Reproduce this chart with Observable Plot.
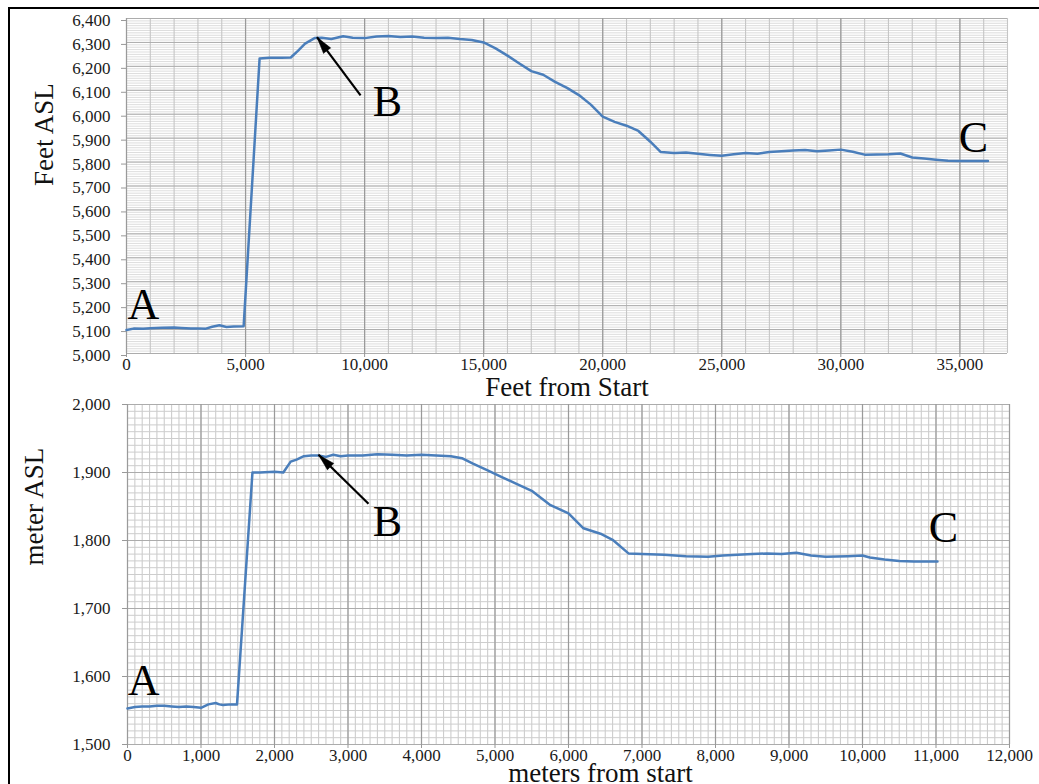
<!DOCTYPE html>
<html>
<head>
<meta charset="utf-8">
<script src="https://cdn.jsdelivr.net/npm/d3@7"></script>
<script src="https://cdn.jsdelivr.net/npm/@observablehq/plot@0.6"></script>
<style>
  html, body { margin: 0; padding: 0; background: #fff; }
  #wrap { position: relative; width: 1039px; height: 784px; overflow: hidden; background: #fff; }
  #frame { position: absolute; left: 8px; top: 7px; width: 1100px; height: 900px;
           border-left: 2.5px solid #000; border-top: 2.5px solid #000; }
  #topChart, #bottomChart { position: absolute; left: 0; }
  #topChart { top: 0; }
  #bottomChart { top: 392px; }
</style>
</head>
<body>
<div id="wrap">
  <div id="frame"></div>
  <div id="topChart"></div>
  <div id="bottomChart"></div>
</div>
<script>
// ---------- Data: elevation profile in feet ----------
const feetDist = [0, 300, 700, 1000, 1500, 2000, 2300, 2700, 3000, 3300, 3600, 3900, 4200, 4500, 4920,
  5590, 6000, 6500, 6900, 7200, 7500, 7900, 8200, 8600, 9100, 9500, 10000, 10500, 11000, 11500, 12000,
  12500, 13000, 13500, 14000, 14500, 15000, 15500, 16000, 16500, 17000, 17500, 18000, 18500, 19000,
  19500, 20000, 20500, 21000, 21500, 22000, 22440, 23000, 23500, 24000, 24500, 25000, 25500, 26000,
  26500, 27000, 27500, 28000, 28500, 29000, 29500, 30000, 30500, 31000, 31500, 32000, 32500, 33000,
  33500, 34000, 34500, 35000, 35500, 36180];
const feetElev = [5098, 5104, 5103, 5106, 5108, 5109, 5107, 5104, 5105, 5103, 5112, 5118, 5111, 5113, 5114,
  6233, 6236, 6236, 6237, 6265, 6295, 6318, 6320, 6314, 6326, 6320, 6318, 6325, 6327, 6323, 6325,
  6320, 6318, 6320, 6314, 6310, 6300, 6275, 6245, 6212, 6180, 6165, 6135, 6110, 6080,
  6040, 5990, 5968, 5952, 5930, 5885, 5842, 5838, 5840, 5835, 5830, 5826, 5833, 5838,
  5835, 5842, 5845, 5848, 5850, 5845, 5848, 5852, 5843, 5831, 5832, 5833, 5836, 5819,
  5815, 5810, 5806, 5804, 5804, 5804];

// ---------- Data: elevation profile in meters ----------
const meterDist = [0, 100, 200, 300, 400, 500, 600, 700, 800, 900, 1000, 1100, 1200, 1250, 1300, 1400, 1490,
  1700, 1800, 2000, 2120, 2220, 2300, 2400, 2500, 2600, 2700, 2800, 2900, 3000, 3200, 3400, 3600, 3800,
  4000, 4200, 4400, 4550, 4700, 4900, 5100, 5300, 5500, 5755, 6000, 6204, 6435, 6600, 6816, 7000,
  7300, 7600, 7900, 8100, 8300, 8500, 8700, 8900, 9100, 9300, 9500, 9800, 10000, 10100, 10300, 10500,
  10700, 11020];
const meterElev = [1553, 1555, 1556, 1556, 1557, 1557, 1556, 1555, 1556, 1555, 1554, 1559, 1561, 1559, 1558, 1559, 1559,
  1900, 1900, 1901, 1900, 1916, 1919, 1924, 1925, 1925, 1923, 1926, 1924, 1925, 1925, 1927, 1926, 1925,
  1926, 1925, 1924, 1921, 1913, 1903, 1893, 1883, 1873, 1852, 1840, 1818, 1810, 1801, 1781, 1780,
  1779, 1777, 1776, 1778, 1779, 1780, 1781, 1780, 1782, 1778, 1776, 1777, 1778, 1775, 1772, 1770,
  1769, 1769];

// ---------- Tick values ----------
const feetXTicks = [0, 5000, 10000, 15000, 20000, 25000, 30000, 35000];
const feetYTicks = [5000, 5100, 5200, 5300, 5400, 5500, 5600, 5700, 5800, 5900, 6000, 6100, 6200, 6300, 6400];
const meterXTicks = [0, 1000, 2000, 3000, 4000, 5000, 6000, 7000, 8000, 9000, 10000, 11000, 12000];
const meterYTicks = [1500, 1600, 1700, 1800, 1900, 2000];

// ---------- Annotations (data coordinates) ----------
const letters = ["A", "B", "C"];
const feetLetterX = [714, 10960, 35570];
const feetLetterY = [5204, 6050, 5902];
const meterLetterX = [218, 3537, 11102];
const meterLetterY = [1593, 1828, 1818];
const feetArrow = [{x1: 9830, y1: 6079, x2: 8000, y2: 6322}];
const meterArrow = [{x1: 3279, y1: 1854, x2: 2599, y2: 1926}];

const fmt = d3.format(",");
const lineColor = "#4a7ebb";
const font = "'Liberation Serif', 'Times New Roman', serif";

const feetData = feetDist.map((d, i) => ({x: d, y: feetElev[i]}));
const meterData = meterDist.map((d, i) => ({x: d, y: meterElev[i]}));
const feetLetters = letters.map((t, i) => ({t, x: feetLetterX[i], y: feetLetterY[i]}));
const meterLetters = letters.map((t, i) => ({t, x: meterLetterX[i], y: meterLetterY[i]}));

// screen-space angle (clockwise from north) of an arrow, given px-per-unit factors
function headAngle(a, kx, ky) {
  const dx = (a.x2 - a.x1) * kx, dy = (a.y2 - a.y1) * ky;
  return Math.atan2(dx, dy) * 180 / Math.PI;
}

function chart(opts) {
  const {data, xDomain, yDomain, xTicks, yTicks, xMinor, yMinor, xMajor,
         margins, arrow, lettersData, yLabel, xLabel, yLabelOff, xLabelOff,
         minorYStroke, minorYWidth, minorXStroke, yTickDy, yPad} = opts;
  const W = 1039, H = 392;
  const kx = (W - margins.left - margins.right) / (xDomain[1] - xDomain[0]);
  const ky = (H - margins.top - margins.bottom) / (yDomain[1] - yDomain[0]);
  const rot = headAngle(arrow[0], kx, ky);
  return Plot.plot({
    width: W, height: H,
    marginLeft: margins.left, marginRight: margins.right, marginTop: margins.top, marginBottom: margins.bottom,
    x: {domain: xDomain},
    y: {domain: yDomain},
    style: {fontFamily: font, fontSize: "17px", background: "none", overflow: "visible", color: "#1a1a1a"},
    marks: [
      Plot.ruleY(yMinor, {stroke: minorYStroke, strokeWidth: minorYWidth}),
      Plot.ruleX(xMinor, {stroke: minorXStroke, strokeWidth: 1.1}),
      Plot.ruleY(yTicks, {stroke: "#acacac", strokeWidth: 1}),
      Plot.ruleX(xMajor, {stroke: "#9a9a9a", strokeWidth: 1.2}),
      Plot.axisY({ticks: yTicks, tickFormat: fmt, tickSize: 5, tickPadding: yPad, stroke: "#999",
                  label: null, dy: yTickDy, fontFamily: font, fontSize: 17}),
      Plot.axisX({ticks: xTicks, tickFormat: fmt, tickSize: 4, tickPadding: 0, stroke: "#999",
                  label: null, fontFamily: font, fontSize: 17}),
      Plot.line(data, {x: "x", y: "y", stroke: lineColor, strokeWidth: 2.5, strokeLinejoin: "round"}),
      Plot.link(arrow, {x1: "x1", y1: "y1", x2: "x2", y2: "y2", stroke: "#000", strokeWidth: 2.2}),
      Plot.vector(arrow, {x: "x2", y: "y2", length: 17, rotate: rot, anchor: "end", shape: "spike",
                          r: 4.5, fill: "#000", stroke: "#000", strokeWidth: 0.5}),
      Plot.text(lettersData, {x: "x", y: "y", text: "t", fontSize: 44, fill: "#000", lineAnchor: "middle", fontFamily: font}),
      Plot.text([yLabel], {frameAnchor: "left", rotate: -90, dx: yLabelOff[0], dy: yLabelOff[1], fontSize: 27,
                           fill: "#111", lineAnchor: "middle", fontFamily: font}),
      Plot.text([xLabel], {frameAnchor: "bottom", dx: xLabelOff[0], dy: xLabelOff[1], fontSize: 27,
                           fill: "#111", lineAnchor: "middle", fontFamily: font})
    ]
  });
}

// ---------- Top chart (feet) ----------
const feetPlot = chart({
  data: feetData, xDomain: [0, 37000], yDomain: [5000, 6400],
  xTicks: feetXTicks, yTicks: feetYTicks,
  xMinor: d3.range(0, 37001, 1000), yMinor: d3.range(5000, 6401, 10), xMajor: d3.range(0, 37001, 5000),
  margins: {left: 126, right: 32, top: 18, bottom: 39},
  arrow: feetArrow, lettersData: feetLetters,
  yLabel: "Feet ASL", xLabel: "Feet from Start", yLabelOff: [-82, 0], xLabelOff: [0, 34],
  minorYStroke: "#d4d4d4", minorYWidth: 0.8, minorXStroke: "#c6c6c6", yTickDy: 2, yPad: 11
});
document.getElementById("topChart").append(feetPlot);

// ---------- Bottom chart (meters) ----------
const meterPlot = chart({
  data: meterData, xDomain: [0, 12000], yDomain: [1500, 2000],
  xTicks: meterXTicks, yTicks: meterYTicks,
  xMinor: d3.range(0, 12001, 100), yMinor: d3.range(1500, 2001, 10), xMajor: meterXTicks,
  margins: {left: 127, right: 30, top: 12, bottom: 40},
  arrow: meterArrow, lettersData: meterLetters,
  yLabel: "meter ASL", xLabel: "meters from start", yLabelOff: [-93, -9], xLabelOff: [32, 29],
  minorYStroke: "#cdcdcd", minorYWidth: 1, minorXStroke: "#cdcdcd", yTickDy: 0, yPad: 12
});
document.getElementById("bottomChart").append(meterPlot);
</script>
</body>
</html>
